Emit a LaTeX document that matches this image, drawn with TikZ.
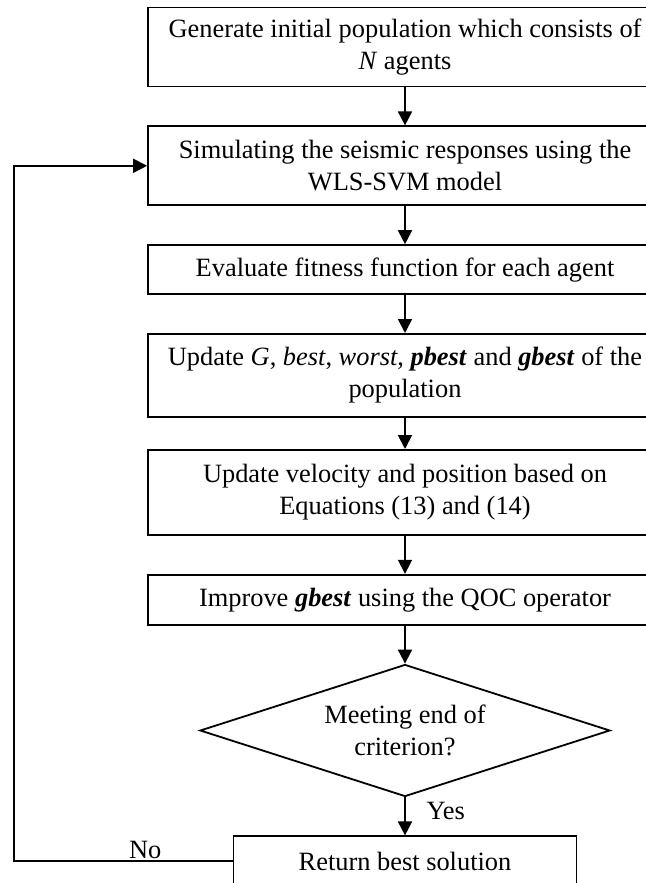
\documentclass[tikz,border=0pt]{standalone}
\usepackage{fontspec}
\setmainfont{Liberation Serif}
\usetikzlibrary{arrows.meta,positioning,shapes.geometric}

\begin{document}
\begin{tikzpicture}[x=0.5pt,y=0.5pt,->,>={Triangle[length=7pt,width=7pt]},line width=0.9pt,node distance=19pt,font=\fontsize{13.2}{16}\selectfont]

    \tikzstyle{block}=[draw=black,text=black,align=center,minimum width=257pt,minimum height=39.5pt,inner sep=2pt]
    \tikzstyle{tall block}=[block,minimum height=41.5pt]
    \tikzstyle{short block}=[block,minimum height=24.5pt]
    \tikzstyle{check}=[draw=black,diamond,aspect=3.1,minimum width=205pt,minimum height=66pt,inner sep=0pt,align=center]

    \useasboundingbox (0,0) rectangle (646,-883);

    \node[block]       (0) at (405,-47) {Generate initial population which consists of\\ \textit{N} agents};
    \node[block]       (1) [below=of 0] {Simulating the seismic responses using the\\ WLS-SVM model};
    \node[short block] (2) [below=of 1] {Evaluate fitness function for each agent};
    \node[tall block]  (3) [below=of 2] {Update \textit{G}, \textit{best}, \textit{worst}, \textbf{\textit{pbest}} and \textbf{\textit{gbest}} of the\\ population};
    \node[tall block,minimum height=42.5pt] (4) [below=15.6pt of 3] {Update velocity and position based on\\ Equations (13) and (14)};
    \node[short block,minimum height=25pt]  (5) [below=of 4] {Improve \textbf{\textit{gbest}} using the QOC operator};
    \node[check]       (6) [below=of 5] {Meeting end of\\ criterion?};
    \node[block,minimum width=171.5pt,minimum height=25pt] (7) [below=of 6] {Return best solution};
    \coordinate (l) at (14,0);

    \path (0) edge (1)
          (1) edge (2)
          (2) edge (3)
          (3) edge (4)
          (4) edge (5)
          (5) edge (6)
    ;
    \draw (6) -- node[right,xshift=7pt,pos=0.35] {Yes} (7);
    \draw (7.west) -- node[above,pos=0.4,inner sep=1pt] {No} (7.west -| l) |- (1.west);
\end{tikzpicture}
\end{document}
